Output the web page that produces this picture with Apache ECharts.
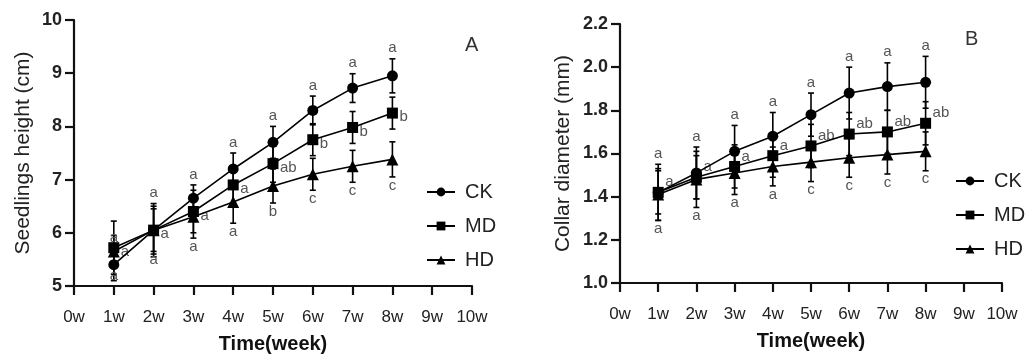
<!DOCTYPE html>
<html>
<head>
<meta charset="utf-8">
<script src="https://cdn.jsdelivr.net/npm/echarts@6/dist/echarts.min.js"></script>
<style>
  html, body { margin: 0; padding: 0; background: #fff; }
  #chart { width: 1028px; height: 354px; }
</style>
</head>
<body>
<div id="chart"></div>
<script>
// weeks on the x axis
const weeks = [1, 2, 3, 4, 5, 6, 7, 8];

// A: seedling height (cm)
const heightCK = [5.4, 6.05, 6.65, 7.2, 7.7, 8.3, 8.72, 8.95];
const heightMD = [5.72, 6.05, 6.4, 6.9, 7.3, 7.75, 7.98, 8.25];
const heightHD = [5.65, 6.05, 6.3, 6.58, 6.88, 7.1, 7.25, 7.38];
const heightErrCK = [0.3, 0.5, 0.25, 0.3, 0.3, 0.27, 0.27, 0.32];
const heightErrMD = [0.5, 0.45, 0.4, 0.35, 0.35, 0.3, 0.3, 0.3];
const heightErrHD = [0.3, 0.4, 0.4, 0.4, 0.32, 0.3, 0.3, 0.33];
const heightLetCK = ["a", "a", "a", "a", "a", "a", "a", "a"];
const heightLetMD = ["a", "a", "a", "a", "ab", "b", "b", "b"];
const heightLetHD = ["a", "a", "a", "a", "b", "c", "c", "c"];

// B: collar diameter (mm)
const diamCK = [1.42, 1.51, 1.61, 1.68, 1.78, 1.88, 1.91, 1.93];
const diamMD = [1.42, 1.49, 1.54, 1.59, 1.635, 1.69, 1.70, 1.74];
const diamHD = [1.41, 1.48, 1.51, 1.54, 1.56, 1.58, 1.595, 1.61];
const diamErrCK = [0.13, 0.12, 0.12, 0.11, 0.1, 0.12, 0.11, 0.12];
const diamErrMD = [0.1, 0.1, 0.1, 0.1, 0.1, 0.1, 0.1, 0.1];
const diamErrHD = [0.12, 0.13, 0.1, 0.09, 0.09, 0.09, 0.09, 0.09];
const diamLetCK = ["a", "a", "a", "a", "a", "a", "a", "a"];
const diamLetMD = ["a", "a", "a", "a", "ab", "ab", "ab", "ab"];
const diamLetHD = ["a", "a", "a", "a", "c", "c", "c", "c"];

const FONT = "Liberation Sans, Arial, sans-serif";
const INK = "#111";

const chart = echarts.init(document.getElementById("chart"));

// error bar + significance letter; where = "top" | "right" | "bottom"
function errSeries(idx, vals, errs, letters, where, dy) {
  return {
    type: "custom",
    xAxisIndex: idx,
    yAxisIndex: idx,
    z: 2,
    silent: true,
    data: weeks.map((w, i) => [w, vals[i], errs[i]]),
    renderItem: (params, api) => {
      const x = api.value(0), y = api.value(1), e = api.value(2);
      const t = api.coord([x, y + e]);
      const b = api.coord([x, y - e]);
      const m = api.coord([x, y]);
      const st = { stroke: "#000", lineWidth: 1.6 };
      const cap = 3;
      const letter = letters[params.dataIndex];
      let tx = m[0], ty = m[1], align = "center", va = "middle";
      if (where === "top") { ty = t[1] - 3; va = "bottom"; }
      else if (where === "bottom") { ty = b[1] + 1; va = "top"; }
      else { tx = m[0] + 7; ty = m[1] + dy; align = "left"; }
      return {
        type: "group",
        children: [
          { type: "line", shape: { x1: t[0], y1: t[1], x2: b[0], y2: b[1] }, style: st },
          { type: "line", shape: { x1: t[0] - cap, y1: t[1], x2: t[0] + cap, y2: t[1] }, style: st },
          { type: "line", shape: { x1: b[0] - cap, y1: b[1], x2: b[0] + cap, y2: b[1] }, style: st },
          { type: "text", z2: 5, style: { text: letter, x: tx, y: ty, align: align, verticalAlign: va,
            fill: "#555", fontSize: 15, fontFamily: FONT } }
        ]
      };
    }
  };
}

function lineSeries(idx, name, vals, symbol) {
  return {
    name: name,
    type: "line",
    xAxisIndex: idx,
    yAxisIndex: idx,
    z: 4,
    data: weeks.map((w, i) => [w, vals[i]]),
    symbol: symbol,
    symbolSize: symbol === "triangle" ? 12 : 11,
    showAllSymbol: true,
    lineStyle: { color: "#000", width: 1.6 },
    itemStyle: { color: "#000" }
  };
}

function xAxis(idx) {
  return {
    type: "value",
    gridIndex: idx,
    min: 0, max: 10, interval: 1,
    name: "Time(week)",
    nameLocation: "middle",
    nameGap: 48,
    nameTextStyle: { color: INK, fontSize: 20, fontWeight: "bold", fontFamily: FONT },
    axisLine: { onZero: false, lineStyle: { color: INK, width: 2.2 } },
    axisTick: { length: 9, lineStyle: { color: INK, width: 2.2 } },
    axisLabel: { color: "#222", fontSize: 17, fontFamily: FONT, margin: 23, formatter: (v) => v + "w" },
    splitLine: { show: false }
  };
}

function yAxis(idx, name, min, max, step, gap, digits) {
  return {
    type: "value",
    gridIndex: idx,
    min: min, max: max, interval: step,
    name: name,
    nameLocation: "middle",
    nameGap: gap,
    nameTextStyle: { color: "#222", fontSize: 21, fontFamily: FONT },
    axisLine: { show: true, onZero: false, lineStyle: { color: INK, width: 2.2 } },
    axisTick: { show: true, length: 9, lineStyle: { color: INK, width: 2.2 } },
    axisLabel: { color: "#222", fontSize: 18, fontWeight: "bold", fontFamily: FONT, margin: 12,
      formatter: (v) => v.toFixed(digits) },
    splitLine: { show: false }
  };
}

function legend(left, top) {
  return {
    orient: "vertical",
    left: left,
    top: top,
    data: ["CK", "MD", "HD"],
    itemWidth: 28,
    itemHeight: 11,
    itemGap: 14,
    selectedMode: false,
    textStyle: { color: "#222", fontSize: 20, fontFamily: FONT, padding: [0, 0, 0, 5] }
  };
}

chart.setOption({
  animation: false,
  backgroundColor: "#fff",
  title: [
    { text: "A", left: 460, top: 30, textStyle: { color: "#333", fontSize: 20, fontWeight: "normal", fontFamily: FONT } },
    { text: "B", left: 960, top: 24, textStyle: { color: "#333", fontSize: 20, fontWeight: "normal", fontFamily: FONT } }
  ],
  legend: [legend(421, 177), legend(950, 166)],
  grid: [
    { left: 74, top: 20, width: 398, height: 266, containLabel: false, outerBoundsMode: "none" },
    { left: 620, top: 24, width: 382, height: 259, containLabel: false, outerBoundsMode: "none" }
  ],
  xAxis: [xAxis(0), xAxis(1)],
  yAxis: [
    yAxis(0, "Seedlings height (cm)", 5, 10, 1, 40, 0),
    yAxis(1, "Collar diameter (mm)", 1.0, 2.2, 0.2, 46, 1)
  ],
  series: [
    errSeries(0, heightCK, heightErrCK, heightLetCK, "top", 0),
    errSeries(0, heightMD, heightErrMD, heightLetMD, "right", 4),
    errSeries(0, heightHD, heightErrHD, heightLetHD, "bottom", 0),
    errSeries(1, diamCK, diamErrCK, diamLetCK, "top", 0),
    errSeries(1, diamMD, diamErrMD, diamLetMD, "right", -10),
    errSeries(1, diamHD, diamErrHD, diamLetHD, "bottom", 0),
    lineSeries(0, "CK", heightCK, "circle"),
    lineSeries(0, "MD", heightMD, "rect"),
    lineSeries(0, "HD", heightHD, "triangle"),
    lineSeries(1, "CK", diamCK, "circle"),
    lineSeries(1, "MD", diamMD, "rect"),
    lineSeries(1, "HD", diamHD, "triangle")
  ]
});
</script>
</body>
</html>
